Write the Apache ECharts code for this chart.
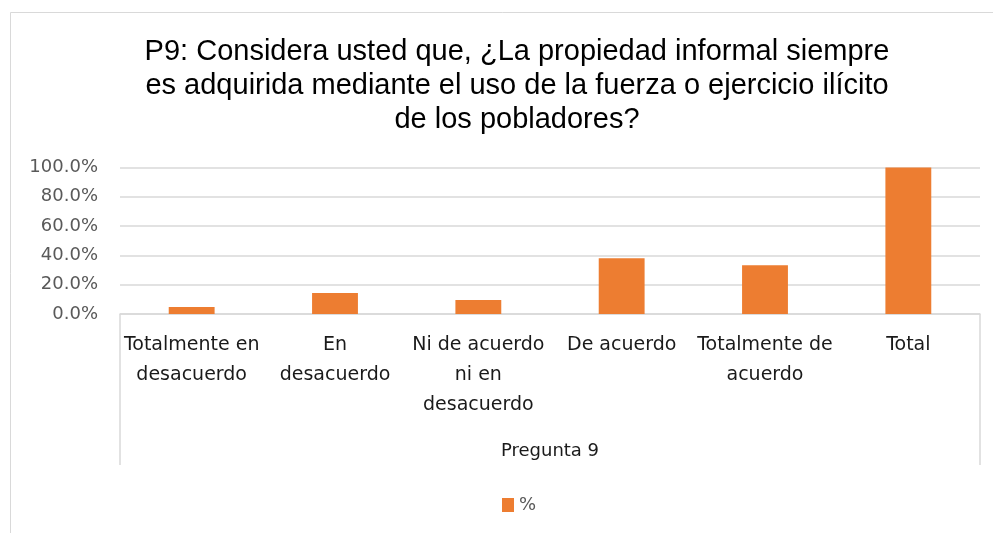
<!DOCTYPE html>
<html>
<head>
<meta charset="utf-8">
<script src="https://cdn.jsdelivr.net/npm/echarts@6/dist/echarts.min.js"></script>
<style>
html,body{margin:0;padding:0;background:#fff;}
#chart{width:993px;height:533px;}
</style>
</head>
<body>
<div id="chart"></div>
<script>
const titleText = 'P9: Considera usted que, ¿La propiedad informal siempre\nes adquirida mediante el uso de la fuerza o ejercicio ilícito\nde los pobladores?';
const categories = ['Totalmente en\ndesacuerdo', 'En\ndesacuerdo', 'Ni de acuerdo\nni en\ndesacuerdo', 'De acuerdo', 'Totalmente de\nacuerdo', 'Total'];
const groupLabel = ['Pregunta 9'];
const seriesName = '%';
const values = [4.76, 14.29, 9.52, 38.10, 33.33, 100.0];
const yTicks = { min: 0, max: 100, interval: 20 };

const chart = echarts.init(document.getElementById('chart'), null, { renderer: 'canvas' });
chart.setOption({
  backgroundColor: '#fff',
  animation: false,
  graphic: [{
    type: 'rect', silent: true,
    shape: { x: 10.5, y: 12.5, width: 1100, height: 700 },
    style: { fill: 'none', stroke: '#d9d9d9', lineWidth: 1 }
  }],
  title: {
    text: titleText,
    left: 512, top: 30, textAlign: 'center',
    textStyle: { fontFamily: 'Liberation Sans', fontSize: 29, fontWeight: 'normal', color: '#000', lineHeight: 34 }
  },
  legend: {
    top: 491, left: 497,
    itemWidth: 12, itemHeight: 14, itemGap: 10,
    icon: 'rect',
    textStyle: { fontFamily: 'DejaVu Sans', fontSize: 18, color: '#595959' },
    data: [seriesName]
  },
  grid: { left: 120, right: 13, top: 167.5, bottom: 219, containLabel: false },
  xAxis: [{
    type: 'category', data: categories, position: 'bottom',
    axisLine: { show: true, lineStyle: { color: '#d9d9d9', width: 1.5 } },
    axisTick: { show: false },
    axisLabel: { interval: 0, margin: 16, fontFamily: 'DejaVu Sans', fontSize: 19, lineHeight: 30, color: '#1a1a1a' }
  }, {
    type: 'category', data: groupLabel, position: 'bottom',
    axisLine: { show: false },
    axisTick: { show: true, length: 151, lineStyle: { color: '#d9d9d9', width: 1.5 } },
    axisLabel: { margin: 128, fontFamily: 'DejaVu Sans', fontSize: 18, color: '#1a1a1a' }
  }],
  yAxis: {
    type: 'value', min: yTicks.min, max: yTicks.max, interval: yTicks.interval,
    axisLine: { show: false }, axisTick: { show: false },
    splitLine: { lineStyle: { color: '#d9d9d9', width: 1.5 } },
    axisLabel: { margin: 22, fontFamily: 'DejaVu Sans', fontSize: 18, color: '#595959', formatter: v => v.toFixed(1) + '%' }
  },
  series: [{
    name: seriesName, type: 'bar', data: values, barWidth: '32%',
    itemStyle: { color: '#ED7D31' }
  }]
});
</script>
</body>
</html>
